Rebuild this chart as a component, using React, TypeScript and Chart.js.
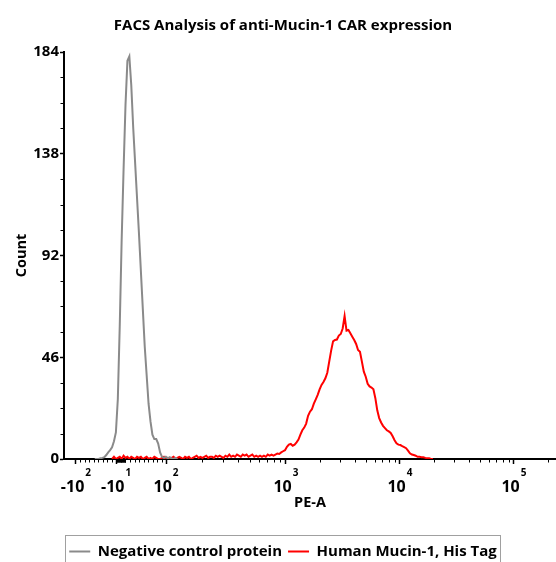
import React, { useEffect, useRef } from 'react';
import { Chart, registerables } from 'chart.js';

Chart.register(...registerables);

const FONT = "'Open Sans', 'DejaVu Sans', sans-serif";

const TITLE = 'FACS Analysis of anti-Mucin-1 CAR expression';
const X_TITLE = 'PE-A';
const Y_TITLE = 'Count';
const SERIES_NAMES = ['Negative control protein', 'Human Mucin-1, His Tag'];
const SERIES_COLORS = ['#8a8a8a', '#ff0000'];

// display channels of the logicle (biexponential) PE-A axis
const CHANNEL_MAX = 256;
const X_TICK_VALUES = [-100, -10, 100, 1000, 10000, 100000];
const X_TICK_CHANNELS = [6.2, 27.1, 53.1, 115.5, 174.8, 234.1];
const X_TICK_BASES = ['-10', '-10', '10', '10', '10', '10'];
const X_TICK_EXPONENTS = ['2', '1', '2', '3', '4', '5'];

const Y_MAX = 184;
const Y_TICKS = [0, 46, 92, 138, 184];
const Y_MINOR_STEP = 11.5;

// histogram counts per display channel
const NEG_START = 16;
const NEG_COUNTS = [
  0, 0, 0, 0.3, 0.5, 0.8, 1.8, 3, 4, 5.3,
  8, 12, 27, 60, 99, 131, 160, 180, 182, 169,
  150, 134, 118, 102, 85, 68, 51, 38, 25, 17,
  11, 9, 9, 7, 3, 1, 0.5, 1, 0.3, 0.8,
  0.3, 0, 0.5, 0,
];

const MUC_START = 25;
const MUC_COUNTS = [
  0, 1, 0, 0.5, 1, 0, 1.5, 0.5, 1, 0, 1, 0.5, 0, 1, 0.5, 1,
  0, 0.5, 1, 0, 0.5, 0, 1, 0.5, 0, 0, 0.5, 1, 0, 0.5, 0, 0.5, 1, 0, 0.5, 1,
  0.5, 0, 1, 0.5, 1, 0, 0.5, 1, 1.5, 0.5, 1, 0.5, 1, 1.5, 0.5, 1, 1, 0.5, 1.5, 1,
  1.5, 1, 0.5, 1.5, 1, 2, 1, 1.5, 1, 2, 1.5, 1, 2, 1.5, 2, 1, 1.5, 2, 1,
  1.5, 1, 1.5, 1, 1.5, 1, 2, 1.5, 2, 1.5,
  2, 2.5, 2.3, 3, 3.5, 4, 5.5, 6.5, 6.8, 6,
  6.5, 7.5, 8.8, 11, 13, 14.2, 16, 19.5, 21.4, 22.5,
  25, 27, 29, 31.5, 33.5, 34.8, 36.5, 39, 44, 49,
  53.2, 53.8, 54, 55.8, 56.5, 59, 64.6, 58, 58.3, 56.8,
  55.3, 53.8, 52, 49.3, 48.5, 44, 39.5, 37.2, 34, 32.8,
  32.3, 31.5, 27.5, 22, 18.5, 16.5, 15, 14, 13, 12.5,
  11.8, 10.3, 8.5, 7.1, 6.5, 6.3, 5.8, 5.4, 4.9, 3.8,
  2.6, 2, 1.8, 1.5, 1, 1, 0.8, 0.8, 0.5, 0.3,
  0.3, 0, 0,
];

function buildMinorTicks(): number[] {
  const out: number[] = [];
  const zero = (X_TICK_CHANNELS[0] + X_TICK_CHANNELS[2]) / 2;
  const slope = (X_TICK_CHANNELS[2] - X_TICK_CHANNELS[0]) / (X_TICK_VALUES[2] - X_TICK_VALUES[0]);
  const lin: number[] = [];
  for (let v = -90; v <= -20; v += 10) lin.push(v);
  for (let v = -9; v <= 10; v += 1) lin.push(v);
  for (let v = 20; v <= 90; v += 10) lin.push(v);
  lin.forEach((v) => out.push(zero + slope * v));
  for (let d = 2; d < X_TICK_CHANNELS.length; d++) {
    const a = X_TICK_CHANNELS[d];
    const b = d + 1 < X_TICK_CHANNELS.length ? X_TICK_CHANNELS[d + 1] : a + (X_TICK_CHANNELS[d] - X_TICK_CHANNELS[d - 1]);
    for (let k = 2; k <= 9; k++) {
      const c = a + (b - a) * Math.log10(k);
      if (c <= CHANNEL_MAX) out.push(c);
    }
  }
  return out;
}

const decorPlugin = {
  id: 'facsDecor',
  afterDraw(chart: any) {
    const { ctx, chartArea } = chart;
    const xs = chart.scales.x;
    const ys = chart.scales.y;
    ctx.save();
    ctx.strokeStyle = '#000';
    ctx.lineWidth = 1;
    ctx.beginPath();
    buildMinorTicks().forEach((c) => {
      const px = Math.round(xs.getPixelForValue(c)) + 0.5;
      ctx.moveTo(px, chartArea.bottom + 1);
      ctx.lineTo(px, chartArea.bottom + 3.5);
    });
    for (let v = Y_MINOR_STEP; v < Y_MAX; v += Y_MINOR_STEP) {
      if (Y_TICKS.includes(v)) continue;
      const py = Math.round(ys.getPixelForValue(v)) + 0.5;
      ctx.moveTo(chartArea.left - 3.5, py);
      ctx.lineTo(chartArea.left - 1, py);
    }
    ctx.stroke();

    ctx.fillStyle = '#000';
    ctx.textBaseline = 'alphabetic';
    ctx.textAlign = 'left';
    const baseFont = `bold 16px ${FONT}`;
    const expFont = `bold 10px ${FONT}`;
    X_TICK_CHANNELS.forEach((c, i) => {
      const px = xs.getPixelForValue(c);
      ctx.font = baseFont;
      const wB = ctx.measureText(X_TICK_BASES[i]).width;
      ctx.font = expFont;
      const wE = ctx.measureText(X_TICK_EXPONENTS[i]).width;
      const left = px - (wB + 1 + wE) / 2;
      ctx.font = baseFont;
      ctx.fillText(X_TICK_BASES[i], left, chartArea.bottom + 33);
      ctx.font = expFont;
      ctx.fillText(X_TICK_EXPONENTS[i], left + wB + 1, chartArea.bottom + 17);
    });

    const lg = chart.legend;
    if (lg && lg.legendHitBoxes && lg.legendHitBoxes.length) {
      const hb = lg.legendHitBoxes;
      const first = hb[0];
      const last = hb[hb.length - 1];
      const l = Math.round(first.left - 4) + 0.5;
      const r = Math.round(last.left + last.width + 3) + 0.5;
      const t = Math.round(first.top - 9) + 0.5;
      ctx.strokeStyle = '#a0a0a0';
      ctx.lineWidth = 1;
      ctx.strokeRect(l, t, r - l, chart.height + 20 - t);
    }
    ctx.restore();
  },
};

export default function App() {
  const ref = useRef<HTMLCanvasElement>(null);
  useEffect(() => {
    const canvas = ref.current;
    if (!canvas) return;
    Chart.defaults.font.family = FONT;
    const chart = new Chart(canvas, {
      type: 'line',
      data: {
        datasets: [
          {
            label: SERIES_NAMES[0],
            data: NEG_COUNTS.map((y, i) => ({ x: NEG_START + i, y })),
            borderColor: SERIES_COLORS[0],
            backgroundColor: SERIES_COLORS[0],
            borderWidth: 2,
            pointRadius: 0,
            tension: 0,
            fill: false,
          },
          {
            label: SERIES_NAMES[1],
            data: MUC_COUNTS.map((y, i) => ({ x: MUC_START + i, y })),
            borderColor: SERIES_COLORS[1],
            backgroundColor: SERIES_COLORS[1],
            borderWidth: 2,
            pointRadius: 0,
            tension: 0,
            fill: false,
          },
        ],
      },
      options: {
        responsive: false,
        animation: false,
        events: [],
        layout: { padding: { left: 10, right: 0, top: 0, bottom: 0 } },
        plugins: {
          title: {
            display: true,
            text: TITLE,
            color: '#000',
            font: { family: FONT, size: 15, weight: 'bold' },
            padding: { top: 17, bottom: 17 },
          },
          legend: {
            position: 'bottom',
            maxHeight: 24,
            labels: {
              color: '#000',
              font: { family: FONT, size: 15, weight: 'bold' },
              boxWidth: 21,
              boxHeight: 2,
              padding: 6,
              generateLabels: (c: any) =>
                (Chart.defaults.plugins.legend.labels as any).generateLabels(c).map((l: any) => ({
                  ...l,
                  lineWidth: 0,
                  fillStyle: l.strokeStyle,
                })),
            },
          },
          tooltip: { enabled: false },
        },
        scales: {
          x: {
            type: 'linear',
            min: 0,
            max: CHANNEL_MAX,
            z: 1,
            border: { color: '#000', width: 2 },
            grid: { drawOnChartArea: false, drawTicks: true, tickLength: 5, tickColor: '#000', tickWidth: 1.5 },
            ticks: { display: false },
            afterBuildTicks: (s: any) => {
              s.ticks = X_TICK_CHANNELS.map((v) => ({ value: v }));
            },
            afterFit: (s: any) => {
              s.height = 79;
            },
            title: {
              display: true,
              text: X_TITLE,
              color: '#000',
              font: { family: FONT, size: 14.5, weight: 'bold' },
              padding: { top: 0, bottom: 26 },
            },
          },
          y: {
            type: 'linear',
            min: 0,
            max: Y_MAX,
            z: 1,
            border: { color: '#000', width: 2 },
            grid: { drawOnChartArea: false, drawTicks: true, tickLength: 4, tickColor: '#000', tickWidth: 1.5 },
            ticks: {
              color: '#000',
              font: { family: FONT, size: 15, weight: 'bold' },
              padding: 1,
              autoSkip: false,
            },
            afterBuildTicks: (s: any) => {
              s.ticks = Y_TICKS.map((v) => ({ value: v }));
            },
            afterFit: (s: any) => {
              s.width = 54;
            },
            title: {
              display: true,
              text: Y_TITLE,
              color: '#000',
              font: { family: FONT, size: 14.5, weight: 'bold' },
              padding: { top: 3, bottom: 0 },
            },
          },
        },
      },
      plugins: [decorPlugin],
    } as any);
    return () => chart.destroy();
  }, []);
  return (
    <div style={{ position: 'absolute', left: 0, top: 0, width: 556, height: 562, background: '#fff' }}>
      <canvas ref={ref} width={556} height={562} style={{ display: 'block', width: 556, height: 562 }} />
    </div>
  );
}
